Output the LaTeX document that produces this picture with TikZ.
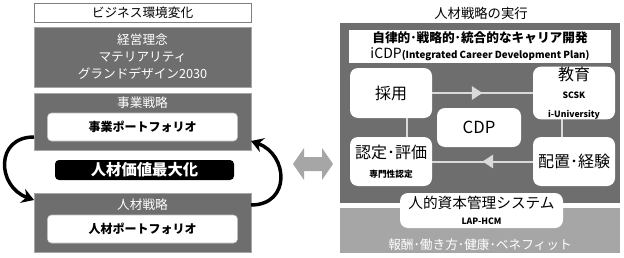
\documentclass[tikz,border=0pt]{standalone}
\usepackage{fontspec}
\setmainfont{Noto Sans CJK JP}
\usetikzlibrary{arrows.meta,decorations.markings}

\definecolor{darkbox}{HTML}{6E6E6E}
\definecolor{lightband}{HTML}{A6A6A6}
\definecolor{linkgray}{HTML}{DADADA}
\newcommand{\tagfont}{\bfseries\fontsize{6.5}{8}\selectfont}

\begin{document}
\begin{tikzpicture}[
  x=0.75pt, y=-0.75pt,
  every node/.style={inner sep=0pt, outer sep=0pt},
  graybox/.style={draw=gray!70, fill=darkbox, minimum width=162.75pt},
  headtxt/.style={text=white, font=\fontsize{9.5}{11}\selectfont},
  portbox/.style={
    draw=gray!50,
    fill=white,
    rounded corners=3pt,
    minimum width=142.5pt,
    minimum height=21pt,
    font=\bfseries\fontsize{9}{10}\selectfont
  },
  stepcard/.style={
    fill=white,
    rounded corners=6pt,
    align=center,
    minimum width=61.5pt,
    minimum height=37.5pt,
    font=\fontsize{12}{14}\selectfont
  },
  link/.style={draw=linkgray, line width=1.5pt},
  midarrow/.style={
    postaction={decorate},
    decoration={markings, mark=at position 0.5 with {\arrow{Triangle[length=8pt,width=10pt]}}}
  },
  cyclearrow/.style={-{Stealth[length=9pt,width=11pt]}, line width=2.6pt}
]
\useasboundingbox (0,0) rectangle (624,257);

% left side
\node[draw=gray, fill=white, minimum width=162.75pt, minimum height=14.25pt,
  font=\fontsize{9.5}{11}\selectfont] (environment) at (142.5,12.5) {ビジネス環境変化};
\node[graybox, minimum height=45pt, align=center, headtxt,
  font=\fontsize{9.5}{12.75}\selectfont] (philosophy) at (142.5,57)
  {経営理念\\マテリアリティ\\グランドデザイン2030};
\node[graybox, minimum height=42.75pt] (bizstrategy) at (142.5,121.5) {};
\node[headtxt] (biztitle) at (142.5,103) {事業戦略};
\node[portbox] (bizportfolio) at (142.5,127) {事業ポートフォリオ};
\node[fill=black, text=white, rounded corners=3pt, minimum width=134.25pt, minimum height=15pt,
  font=\bfseries\fontsize{11.5}{12}\selectfont] (maxvalue) at (144.5,170) {人材価値最大化};
\node[graybox, minimum height=44.25pt] (hrstrategy) at (142.5,222.5) {};
\node[headtxt] (hrtitle) at (142.5,205) {人材戦略};
\node[portbox] (hrportfolio) at (142.5,229) {人材ポートフォリオ};

\draw[cyclearrow] ([yshift=9.75pt]bizstrategy.south west) to[out=180, in=160, looseness=1.6]
  ([yshift=-5.25pt]hrstrategy.north west);
\draw[cyclearrow] ([yshift=-9pt]hrstrategy.north east) to[out=0, in=-20, looseness=1.6]
  ([yshift=6.75pt]bizstrategy.south east);

% two-way arrow between the panels
\coordinate (exchange) at (313,164);
\fill[lightband, shift={(exchange)}] (-20,0) -- (-9,-16) -- (-9,-7) -- (9,-7) -- (9,-16)
  -- (20,0) -- (9,16) -- (9,7) -- (-9,7) -- (-9,16) -- cycle;

% right side
\node[font=\fontsize{10}{12}\selectfont] (exectitle) at (481,13) {人材戦略の実行};
\node[fill=darkbox, minimum width=210pt, minimum height=135pt] (execpanel) at (480,113) {};
\node[fill=lightband, minimum width=210pt, minimum height=33.75pt] (benefitband) at (480,230.5) {};
\node[text=white, font=\fontsize{9.5}{11}\selectfont] (benefits) at (480,245) {報酬･働き方･健康･ベネフィット};

\node[fill=white, minimum width=196.5pt, minimum height=24.75pt, align=center,
  font=\fontsize{9.5}{12}\selectfont] (icdp) at (480,46.5)
  {\bfseries 自律的･戦略的･統合的なキャリア開発\\
   {\fontsize{10.5}{12}\selectfont iCDP}{\bfseries\fontsize{7.3}{8}\selectfont (Integrated Career Development Plan)}};

\node[stepcard] (recruit) at (391,93) {採用};
\node[stepcard] (training) at (574,93) {教育\\{\tagfont SCSK}\\{\tagfont i-University}};
\node[stepcard, minimum width=63pt, minimum height=29.25pt,
  font=\fontsize{12.5}{14}\selectfont] (cdp) at (479,127.5) {CDP};
\node[stepcard, minimum height=36.75pt] (certify) at (391,161.5) {認定･評価\\{\tagfont 専門性認定}};
\node[stepcard, minimum height=36.75pt] (assign) at (574,161.5) {配置･経験};
\node[stepcard, minimum width=122.25pt, minimum height=26.25pt,
  font=\fontsize{11}{12.5}\selectfont] (hcm) at (481.5,210.5) {人的資本管理システム\\{\tagfont LAP-HCM}};

\draw[link, midarrow] (recruit) -- (training);
\draw[link, midarrow] (assign) -- (certify);
\draw[link] ([xshift=12pt]recruit.south) -- ([xshift=12pt]certify.north);
\draw[link] ([xshift=-9pt]training.south) -- ([xshift=-9pt]assign.north);
\end{tikzpicture}
\end{document}
